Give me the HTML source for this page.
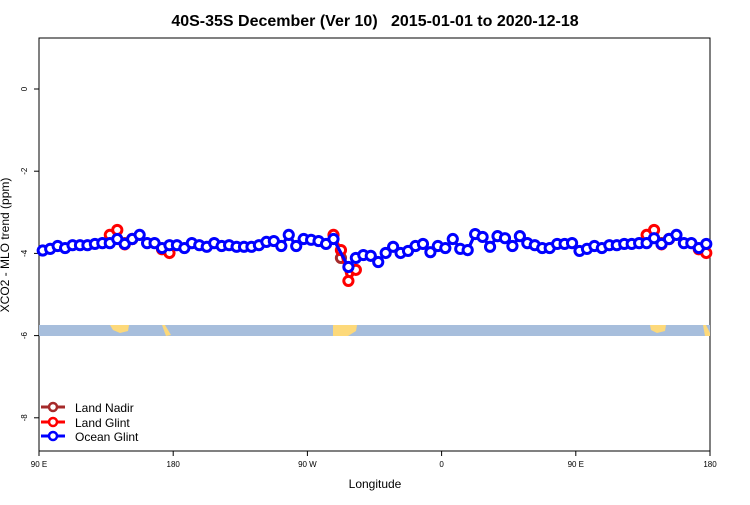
<!DOCTYPE html>
<html><head><meta charset="utf-8"><style>
body{margin:0;background:#fff}
svg text{font-family:"Liberation Sans",sans-serif}
</style></head><body>
<svg id="c" width="750" height="500" xmlns="http://www.w3.org/2000/svg">
<text x="375" y="26" text-anchor="middle" font-size="16" font-weight="bold" xml:space="preserve" style="white-space:pre">40S-35S December (Ver 10)   2015-01-01 to 2020-12-18</text>
<rect x="39" y="38" width="671" height="413" fill="none" stroke="#000" stroke-width="1"/>
<g>
<rect x="39" y="325" width="671" height="11" fill="#a7bedc"/>
<path d="M110,325 L129,325 L128,331 L120,333 L113,330 Z" fill="#fdd97a"/>
<path d="M162,325 L165,325 L171,335 L166,336 Z" fill="#fdd97a"/>
<path d="M333,325 L357,325 L356,331 L348,336 L333,336 Z" fill="#fdd97a"/>
<path d="M650,325 L666,325 L665,331 L657,333 L651,330 Z" fill="#fdd97a"/>
<path d="M703,325 L706,325 L710,333 L710,336 L705,336 Z" fill="#fdd97a"/>
</g>
<g id="axes"></g>
<g id="series"></g>
<text x="375" y="488" text-anchor="middle" font-size="12">Longitude</text>
<text transform="translate(9,245) rotate(-90)" text-anchor="middle" font-size="12">XCO2 - MLO trend (ppm)</text>
<g>
<g><line x1="41" y1="407" x2="65" y2="407" stroke="#a52a2a" stroke-width="3"/><circle cx="53" cy="407" r="4" fill="#fff" stroke="#a52a2a" stroke-width="2.5"/><text x="75" y="412" font-size="12">Land Nadir</text></g>
<g><line x1="41" y1="422" x2="65" y2="422" stroke="#f00" stroke-width="3"/><circle cx="53" cy="422" r="4" fill="#fff" stroke="#f00" stroke-width="2.5"/><text x="75" y="427" font-size="12">Land Glint</text></g>
<g><line x1="41" y1="436" x2="65" y2="436" stroke="#00f" stroke-width="3"/><circle cx="53" cy="436" r="4" fill="#fff" stroke="#00f" stroke-width="2.5"/><text x="75" y="441" font-size="12">Ocean Glint</text></g>
</g>
</svg>
<script>
const xTickLon=[90,180,270,360,450,540];
const xTickLabels=["90 E","180","90 W","0","90 E","180"];
const yTicks=[0,-2,-4,-6,-8];
const ocean=[-3.93,-3.89,-3.82,-3.87,-3.80,-3.80,-3.80,-3.77,-3.75,-3.75,-3.65,-3.77,-3.65,-3.55,-3.75,-3.75,-3.87,-3.80,-3.80,-3.87,-3.75,-3.80,-3.84,-3.75,-3.82,-3.80,-3.84,-3.84,-3.84,-3.80,-3.72,-3.70,-3.82,-3.55,-3.82,-3.65,-3.67,-3.70,-3.77,-3.65,null,-4.33,-4.11,-4.04,-4.06,-4.21,-3.99,-3.84,-3.99,-3.94,-3.82,-3.77,-3.97,-3.82,-3.87,-3.65,-3.89,-3.92,-3.53,-3.60,-3.84,-3.58,-3.63,-3.82,-3.58,-3.75,-3.80,-3.87,-3.87,-3.77,-3.77,-3.75,-3.94,-3.89,-3.82,-3.87,-3.80,-3.80,-3.77,-3.77,-3.75,-3.75,-3.63,-3.77,-3.65,-3.55,-3.75,-3.75,-3.87,-3.77];
const landGlint=new Array(90).fill(null);
const lgIdx=[9,10,11,12,16,17,39,40,41,42,81,82,83,84,88,89];
const lgVal=[-3.55,-3.43,-3.78,-3.65,-3.90,-3.99,-3.55,-3.92,-4.67,-4.40,-3.55,-3.43,-3.78,-3.65,-3.90,-3.99];
const lnIdx=[11,12,40,83,84];
const lnVal=[-3.75,-3.65,-4.11,-3.75,-3.65];
lgIdx.forEach((k,j)=>landGlint[k]=lgVal[j]);
const landNadir=new Array(90).fill(null);
lnIdx.forEach((k,j)=>landNadir[k]=lnVal[j]);
const lons=ocean.map((_,i)=>92.5+5*i);
const X=l=>39+(l-90)*671/450;
const Y=v=>89-v*41.1;
const NS="http://www.w3.org/2000/svg";
function mk(t,a,p){const e=document.createElementNS(NS,t);for(const k in a)e.setAttribute(k,a[k]);p.appendChild(e);return e;}
const ax=document.getElementById('axes');
xTickLon.forEach((l,i)=>{
 const t=mk('line',{x1:X(l),y1:451,x2:X(l),y2:456,stroke:'#000'},ax);
 
 
 const tx=mk('text',{x:X(l),y:467,'text-anchor':'middle','font-size':8},ax);
 tx.textContent=xTickLabels[i];
 
 
});
yTicks.forEach(v=>{
 const t=mk('line',{x1:34,y1:Y(v),x2:39,y2:Y(v),stroke:'#000'},ax);
 
 
 const tx=mk('text',{transform:`translate(27,${Y(v)}) rotate(-90)`,'text-anchor':'middle','font-size':8},ax);
 tx.textContent=String(v);
 
 
});
const sg=document.getElementById('series');
function series(vals,color,name,connectGaps){
 const g=mk('g',{},sg);
 
 
 let segs=[],cur=[];
 vals.forEach((v,i)=>{if(v==null){if(!connectGaps){if(cur.length)segs.push(cur);cur=[];}}else cur.push([X(lons[i]),Y(v)]);});
 if(cur.length)segs.push(cur);
 segs.forEach(s=>{if(s.length>1){const p=mk('polyline',{points:s.map(q=>q.join(',')).join(' '),fill:'none',stroke:color,'stroke-width':3.2},g);}});
 vals.forEach((v,i)=>{if(v==null)return;const c=mk('circle',{cx:X(lons[i]),cy:Y(v),r:4.6,fill:'#fff',stroke:color,'stroke-width':3},g);});
}
series(landNadir,'#a52a2a','land-nadir',false);
series(landGlint,'#ff0000','land-glint',false);
series(ocean,'#0000ff','ocean-glint',true);
</script>
</body></html>
